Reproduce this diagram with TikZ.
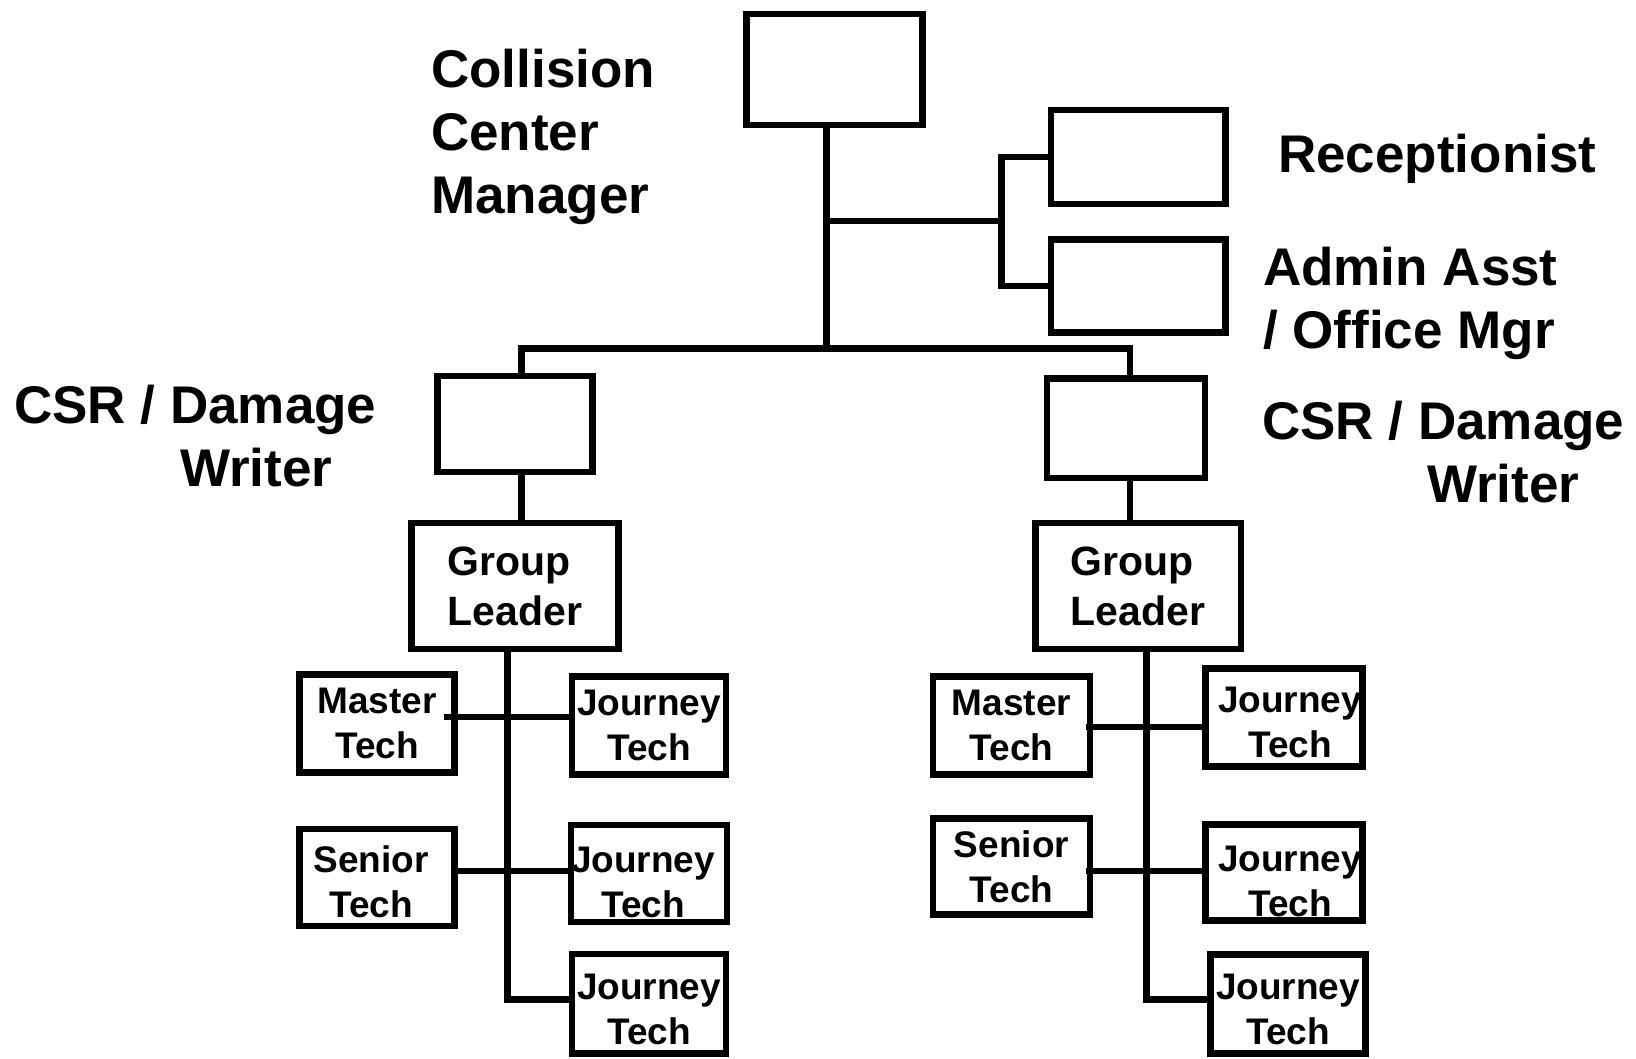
\documentclass[tikz,border=0pt]{standalone}
\usepackage{fontspec}
\setmainfont{Liberation Sans}
\newcommand\tpad[1]{\rule{0pt}{#1pt}}
\begin{document}
\begin{tikzpicture}[x=1pt,y=-1pt,
  bx/.style={draw, line width=6.5pt, inner sep=0pt},
  tech/.style={bx, align=center, minimum width=155pt, minimum height=98pt,
    font=\fontsize{37}{45}\selectfont\bfseries},
  glbox/.style={bx, align=left, minimum width=207pt, minimum height=126pt,
    font=\fontsize{41}{50}\selectfont\bfseries},
  lbl/.style={inner sep=0pt, align=left, anchor=base west,
    font=\fontsize{53}{63}\selectfont\bfseries},
  conn/.style={line width=6.5pt}]
\useasboundingbox (0,0) rectangle (1636,1058);

% top level
\node[bx, minimum width=176pt, minimum height=111pt] (mgr) at (834.5,69.5) {};
\node[bx, minimum width=174.5pt, minimum height=94pt] (rec) at (1138,157) {};
\node[bx, minimum width=174.5pt, minimum height=93pt] (adm) at (1138,286) {};
\node[bx, minimum width=155pt, minimum height=96pt] (csrL) at (515,424) {};
\node[bx, minimum width=158pt, minimum height=99.5pt] (csrR) at (1126,428) {};

% group leaders
\node[glbox] (glL) at (515,586) {Group\\Leader};
\node[glbox, minimum width=205.5pt] (glR) at (1138,586) {Group\\Leader};

% left techs
\node[tech] (mtL) at (377,723.5) {Master\\Tech};
\node[tech, minimum width=154pt] (jt1L) at (649,725.7) {Journey\\Tech};
\node[tech, minimum height=97pt] (stL) at (377,877.5) {\tpad{34.5}Senior\hspace*{12pt}\\Tech\hspace*{12pt}};
\node[tech, minimum width=154pt, minimum height=97pt] (jt2L) at (649,873.3) {\tpad{44.5}Journey\hspace*{12pt}\\Tech\hspace*{12pt}};
\node[tech, minimum width=154pt, minimum height=99.5pt] (jt3L) at (649,1003.8) {\tpad{36.5}Journey\\Tech};

% right techs
\node[tech, minimum width=157pt] (mtR) at (1011.5,725.7) {Master\\Tech};
\node[tech, minimum width=157pt] (jt1R) at (1284,717.3) {\tpad{36.5}\hspace*{12pt}Journey\\\hspace*{12pt}Tech};
\node[tech, minimum width=157pt, minimum height=96pt] (stR) at (1011.5,866.5) {Senior\\Tech};
\node[tech, minimum width=157pt, minimum height=96pt] (jt2R) at (1284,872.7) {\tpad{43}\hspace*{12pt}Journey\\\hspace*{12pt}Tech};
\node[tech, minimum width=155pt, minimum height=99pt] (jt3R) at (1288,1003.8) {\tpad{36.5}Journey\\Tech};

% labels (anchor = baseline of the last line)
\node[lbl] (lmgr) at (431,213) {Collision\\Center\\Manager};
\node[lbl] (lrec) at (1278,172) {Receptionist};
\node[lbl] (ladm) at (1263,348) {Admin Asst\\/ Office Mgr};
\node[lbl] (lcsrR) at (1262,502) {CSR / Damage\\\hspace*{165pt}Writer};
\node[lbl] (lcsrL) at (14,486) {CSR / Damage\\\hspace*{166pt}Writer};

% junction coordinates
\coordinate (jTop) at (826.4,348.5);
\coordinate (jBr) at (826.4,221.2);
\coordinate (brk) at (1001.7,221.2);
\coordinate (bL) at (521.7,348.5);
\coordinate (bR) at (1130,348.5);
\coordinate (tL) at (507.3,999.6);
\coordinate (h1L) at (507.3,716.8);
\coordinate (h2L) at (507.3,871.2);
\coordinate (tR) at (1146.7,999.6);
\coordinate (h1R) at (1146.7,727.2);
\coordinate (h2R) at (1146.7,871.2);

% connectors
\draw[conn] (mgr.south -| jTop) -- (jTop);
\draw[conn] (jBr) -- (brk);
\draw[conn] (rec.west) -| (brk) |- (adm.west);
\draw[conn] (bL |- csrL.north) -- (bL) -- (bR) -- (bR |- csrR.north);
\draw[conn] (csrL.south -| bL) -- (glL.north -| bL);
\draw[conn] ([yshift=4pt]csrR.south -| bR) -- (glR.north -| bR);

\draw[conn] (glL.south -| tL) -- (tL) -- (tL -| jt3L.west);
\draw[conn] ([xshift=-14pt]mtL.east |- h1L) -- (jt1L.west |- h1L);
\draw[conn] (stL.east |- h2L) -- (jt2L.west |- h2L);

\draw[conn] (glR.south -| tR) -- (tR) -- (tR -| jt3R.west);
\draw[conn] ([xshift=-7pt]mtR.east |- h1R) -- ([xshift=5pt]jt1R.west |- h1R);
\draw[conn] ([xshift=-7pt]stR.east |- h2R) -- ([xshift=5pt]jt2R.west |- h2R);
\end{tikzpicture}
\end{document}
